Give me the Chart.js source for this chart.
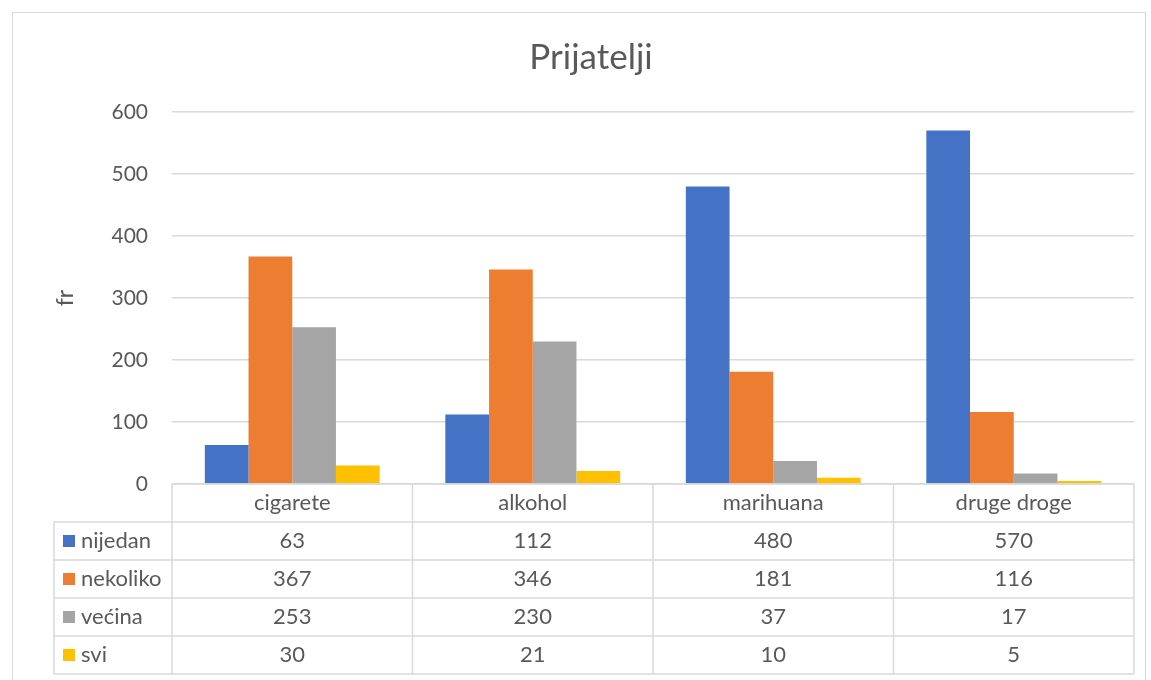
<!DOCTYPE html>
<html>
<head>
<meta charset="utf-8">
<script src="https://cdn.jsdelivr.net/npm/chart.js@4"></script>
<style>
  html, body { margin: 0; padding: 0; background: #fff; }
  #wrap { position: relative; width: 1151px; height: 680px; }
  #frame { position: absolute; left: 12px; top: 12px; width: 1134px; height: 680px; border: 1px solid #d9d9d9; box-sizing: border-box; }
</style>
</head>
<body>
<div id="wrap">
  <canvas id="chart" width="1151" height="680"></canvas>
  <div id="frame"></div>
</div>
<script>
// podaci (sa slike)
const categories = ['cigarete', 'alkohol', 'marihuana', 'druge droge'];
const seriesNames = ['nijedan', 'nekoliko', 'većina', 'svi'];
const nijedan  = [63, 112, 480, 570];
const nekoliko = [367, 346, 181, 116];
const vecina   = [253, 230, 37, 17];
const svi      = [30, 21, 10, 5];
const yTicks   = [0, 100, 200, 300, 400, 500, 600];

const seriesData = [nijedan, nekoliko, vecina, svi];
const colors = ['#4472C4', '#ED7D31', '#A5A5A5', '#FFC000'];
const TXT = '#595959';
const LINE = '#d9d9d9';
const FONT = 'Lato, "Open Sans", sans-serif';

/* ── tablica podataka ispod grafa ── */
const dataTable = {
  id: 'dataTable',
  afterDraw(chart) {
    const { ctx, chartArea } = chart;
    const xs = chart.scales.x;
    const colW = (chartArea.right - chartArea.left) / categories.length;
    const top = chartArea.bottom;
    const rowH = 38;
    const labelLeft = 54;
    const bottom = top + rowH * (seriesNames.length + 1);
    const bounds = categories.map((c, i) => xs.getPixelForValue(i) - colW / 2);
    bounds.push(chartArea.right);

    ctx.save();
    ctx.strokeStyle = LINE;
    ctx.lineWidth = 1.5;
    ctx.beginPath();
    // okomite linije
    bounds.forEach(bx => { ctx.moveTo(bx, top); ctx.lineTo(bx, bottom); });
    ctx.moveTo(labelLeft, top + rowH); ctx.lineTo(labelLeft, bottom);
    // vodoravne linije
    ctx.moveTo(chartArea.left, top); ctx.lineTo(chartArea.right, top);
    for (let r = 1; r <= seriesNames.length + 1; r++) {
      ctx.moveTo(labelLeft, top + r * rowH); ctx.lineTo(chartArea.right, top + r * rowH);
    }
    ctx.stroke();

    ctx.font = '22px ' + FONT;
    ctx.fillStyle = TXT;
    ctx.textBaseline = 'middle';
    ctx.textAlign = 'center';
    categories.forEach((c, i) => ctx.fillText(c, xs.getPixelForValue(i), top + rowH / 2));

    seriesNames.forEach((name, r) => {
      const cy = top + rowH * (r + 1.5);
      ctx.fillStyle = colors[r];
      ctx.fillRect(labelLeft + 9, cy - 6, 12, 12);
      ctx.fillStyle = TXT;
      ctx.textAlign = 'left';
      ctx.fillText(name, labelLeft + 27, cy);
      ctx.textAlign = 'center';
      seriesData[r].forEach((v, i) => ctx.fillText(String(v), xs.getPixelForValue(i), cy));
    });
    ctx.restore();
  }
};

new Chart(document.getElementById('chart'), {
  type: 'bar',
  data: {
    labels: categories,
    datasets: seriesNames.map((n, i) => ({
      label: n,
      data: seriesData[i],
      backgroundColor: colors[i],
      barPercentage: 1,
      categoryPercentage: 0.727
    }))
  },
  plugins: [dataTable],
  options: {
    responsive: false,
    animation: false,
    layout: { padding: { left: 48, right: 17, top: 0, bottom: 196 } },
    plugins: {
      legend: { display: false },
      tooltip: { enabled: false },
      title: {
        display: true,
        text: 'Prijatelji',
        color: TXT,
        font: { family: FONT, size: 35, weight: 'normal' },
        padding: { top: 37, bottom: 33 }
      }
    },
    scales: {
      x: { display: false },
      y: {
        min: 0, max: 600,
        afterFit(s) { s.width = 124; },
        afterBuildTicks(s) { s.ticks = yTicks.map(v => ({ value: v })); },
        ticks: { color: TXT, padding: 24, font: { family: FONT, size: 21 } },
        grid: { color: LINE, lineWidth: 1.5, drawTicks: false },
        border: { display: false },
        title: { display: true, text: 'fr', color: TXT, font: { family: FONT, size: 23 } }
      }
    }
  }
});
</script>
</body>
</html>
